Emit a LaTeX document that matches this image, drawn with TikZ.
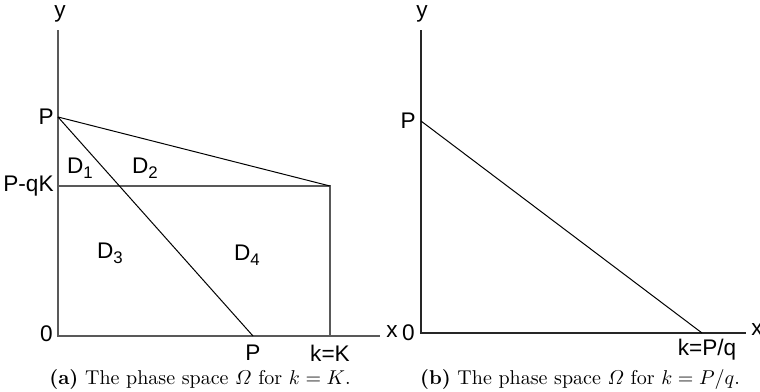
\documentclass[tikz,border=0pt]{standalone}
\usepackage{amsmath}
\usepackage{fontspec}
\newfontfamily\labelfont{Liberation Sans}
\usepackage{tikz}
\usetikzlibrary{positioning,calc}
\newcommand{\lowsub}[1]{\raisebox{-0.45ex}{\fontsize{8.4}{9}\selectfont #1}}
\tikzset{
  axis/.style={draw=black!65,line width=0.8pt},
  border/.style={draw=black!65,line width=0.8pt},
  boundary/.style={draw=black,line width=0.5pt},
  caption/.style={font=\fontsize{10}{12}\selectfont,inner sep=0pt}
}

\begin{document}
\begin{tikzpicture}[x=0.5pt,y=-0.5pt,
  tick/.style={font=\labelfont\fontsize{11.3}{13}\selectfont,inner sep=1pt},
  region/.style={font=\labelfont\fontsize{11.3}{13}\selectfont,inner sep=0pt}
]
  \useasboundingbox (0,0) rectangle (760,391);
  % panel (a)
  \coordinate (originA) at (58,336);
  \coordinate (ytopA) at (58,30);
  \coordinate (xendA) at (380,336);
  \coordinate (pyA) at (58,117);
  \coordinate (pqkA) at (58,186);
  \coordinate (cornerA) at (330,186);
  \coordinate (kA) at (330,336);
  \coordinate (pxA) at (253,336);
  \draw[axis] (ytopA) -- (originA) -- (xendA);
  \draw[border] (pqkA) -- (cornerA) -- (kA);
  \draw[boundary] (pyA) -- (cornerA);
  \draw[boundary] (pyA) -- (pxA);
  \node[tick] (ylabelA) at (60,14) {y};
  \node[tick] (xlabelA) at (392,332) {x};
  \node[tick,anchor=east] (plabelA) at (56,117) {P};
  \node[tick,anchor=east] (pqklabelA) at (56,186) {P-qK};
  \node[tick,anchor=east] (zeroA) at (55,334) {0};
  \node[tick] (pxlabelA) at (253,353) {P};
  \node[tick] (klabelA) at (330,353) {k=K};
  \node[region] (dOne) at (80,168) {D\lowsub{1}};
  \node[region] (dTwo) at (145,168) {D\lowsub{2}};
  \node[region] (dThree) at (110,253) {D\lowsub{3}};
  \node[region] (dFour) at (247,255) {D\lowsub{4}};
  \node[caption] (capA) at (200,379) {\textbf{(a)} The phase space $\varOmega$ for $k=K$.};
  % panel (b)
  \coordinate (originB) at (421,333);
  \coordinate (ytopB) at (421,30);
  \coordinate (xendB) at (746,333);
  \coordinate (pyB) at (421,121);
  \coordinate (kB) at (702,333);
  \draw[axis,draw=black!85] (ytopB) -- (originB) -- (xendB);
  \draw[boundary] (pyB) -- (kB);
  \node[tick] (ylabelB) at (422,14) {y};
  \node[tick] (xlabelB) at (757,330) {x};
  \node[tick,anchor=east] (plabelB) at (418,121) {P};
  \node[tick,anchor=east] (zeroB) at (417,333) {0};
  \node[tick] (klabelB) at (707,350) {k=P/q};
  \node[caption] (capB) at (580,379) {\textbf{(b)} The phase space $\varOmega$ for $k=P/q$.};
\end{tikzpicture}
\end{document}
